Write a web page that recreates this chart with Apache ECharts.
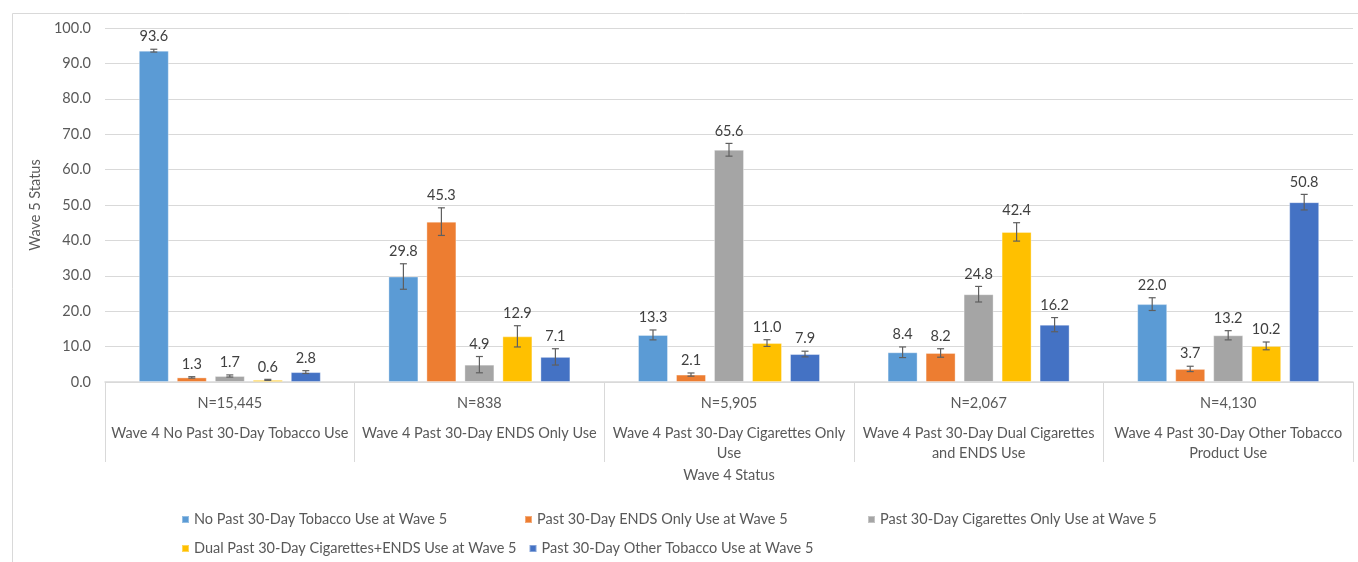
<!DOCTYPE html>
<html>
<head>
<meta charset="utf-8">
<title>Wave 5 Status by Wave 4 Status</title>
<script src="https://cdn.jsdelivr.net/npm/echarts@6/dist/echarts.min.js"></script>
<style>
  html, body { margin: 0; padding: 0; background: #ffffff; }
  #chart { width: 1358px; height: 562px; }
</style>
</head>
<body>
<div id="chart"></div>
<script>
// Wave 4 status groups and their sample sizes
const categories = [
  'Wave 4 No Past 30-Day Tobacco Use',
  'Wave 4 Past 30-Day ENDS Only Use',
  'Wave 4 Past 30-Day Cigarettes Only\nUse',
  'Wave 4 Past 30-Day Dual Cigarettes\nand ENDS Use',
  'Wave 4 Past 30-Day Other Tobacco\nProduct Use'
];
const sampleSizes = ['N=15,445', 'N=838', 'N=5,905', 'N=2,067', 'N=4,130'];

// Wave 5 outcome series (percent) and their error margins
const seriesNames = [
  'No Past 30-Day Tobacco Use at Wave 5',
  'Past 30-Day ENDS Only Use at Wave 5',
  'Past 30-Day Cigarettes Only Use at Wave 5',
  'Dual Past 30-Day Cigarettes+ENDS Use at Wave 5',
  'Past 30-Day Other Tobacco Use at Wave 5'
];
const noUseW5    = [93.6, 29.8, 13.3, 8.4, 22.0];
const endsOnlyW5 = [1.3, 45.3, 2.1, 8.2, 3.7];
const cigOnlyW5  = [1.7, 4.9, 65.6, 24.8, 13.2];
const dualW5     = [0.6, 12.9, 11.0, 42.4, 10.2];
const otherW5    = [2.8, 7.1, 7.9, 16.2, 50.8];

const noUseErr    = [0.4, 3.6, 1.4, 1.5, 1.8];
const endsOnlyErr = [0.2, 3.9, 0.45, 1.2, 0.75];
const cigOnlyErr  = [0.3, 2.3, 1.8, 2.2, 1.3];
const dualErr     = [0.15, 3.0, 0.95, 2.6, 1.1];
const otherErr    = [0.4, 2.3, 0.8, 2.0, 2.2];

const yTicks = { min: 0, max: 100, interval: 10 };

const seriesValues = [noUseW5, endsOnlyW5, cigOnlyW5, dualW5, otherW5];
const seriesErrors = [noUseErr, endsOnlyErr, cigOnlyErr, dualErr, otherErr];
const colors = ['#5B9BD5', '#ED7D31', '#A5A5A5', '#FFC000', '#4472C4'];

const FONT = 'Lato, "Open Sans", "Noto Sans", sans-serif';
const FS = 14.5;
const BAR_W = 30;
const BAR_GAP = 8;

function errorBarRenderer(sIdx) {
  return function (params, api) {
    const cat = api.value(0);
    const lo = api.value(1);
    const hi = api.value(2);
    const val = api.value(3);
    const cx = api.coord([cat, 0])[0] + (sIdx - 2) * (BAR_W + BAR_GAP);
    const yLo = api.coord([cat, lo])[1];
    const yHi = api.coord([cat, hi])[1];
    const stroke = { stroke: '#5f5f5f', lineWidth: 1.2 };
    return {
      type: 'group',
      children: [
        { type: 'line', shape: { x1: cx, y1: yLo, x2: cx, y2: yHi }, style: stroke },
        { type: 'line', shape: { x1: cx - 3.5, y1: yLo, x2: cx + 3.5, y2: yLo }, style: stroke },
        { type: 'line', shape: { x1: cx - 3.5, y1: yHi, x2: cx + 3.5, y2: yHi }, style: stroke },
        {
          type: 'text',
          style: {
            text: val.toFixed(1), x: cx, y: yHi - 12.5,
            align: 'center', verticalAlign: 'middle',
            fill: '#404040', font: FS + 'px ' + FONT
          }
        }
      ]
    };
  };
}

const series = [];
seriesNames.forEach(function (name, i) {
  series.push({
    name: name,
    type: 'bar',
    barWidth: BAR_W,
    barGap: (BAR_GAP / BAR_W * 100) + '%',
    itemStyle: { color: colors[i], borderColor: 'rgba(255,255,255,0.35)', borderWidth: 1 },
    data: seriesValues[i]
  });
});
seriesNames.forEach(function (name, i) {
  series.push({
    type: 'custom',
    silent: true,
    z: 5,
    renderItem: errorBarRenderer(i),
    encode: { x: 0, y: [1, 2] },
    data: seriesValues[i].map(function (v, j) {
      return [j, v - seriesErrors[i][j], v + seriesErrors[i][j], v];
    })
  });
});

const chart = echarts.init(document.getElementById('chart'), null, { renderer: 'canvas' });
chart.setOption({
  animation: false,
  backgroundColor: '#ffffff',
  textStyle: { fontFamily: FONT },
  graphic: [{
    type: 'rect',
    left: 10, top: 11,
    shape: { width: 1400, height: 600 },
    style: { fill: 'none', stroke: '#d9d9d9', lineWidth: 1 },
    silent: true
  }],
  grid: { left: 105, right: 5, top: 28, bottom: 180, containLabel: false },
  xAxis: {
    type: 'category',
    data: categories,
    name: 'Wave 4 Status',
    nameLocation: 'middle',
    nameGap: 86,
    nameTextStyle: { color: '#595959', fontSize: FS, fontFamily: FONT },
    axisLine: { lineStyle: { color: '#d9d9d9', width: 1.5 } },
    axisTick: { show: true, length: 80, interval: 0, alignWithLabel: false, lineStyle: { color: '#d9d9d9' } },
    axisLabel: {
      interval: 0,
      margin: 0,
      color: '#595959',
      formatter: function (value, idx) {
        const lines = value.split('\n').map(function (s) { return '{t|' + s + '}'; });
        return '{n|' + sampleSizes[idx] + '}\n' + lines.join('\n');
      },
      rich: {
        n: { fontSize: FS, lineHeight: 42, color: '#595959', fontFamily: FONT },
        t: { fontSize: FS, lineHeight: 19.5, color: '#595959', fontFamily: FONT }
      }
    }
  },
  yAxis: {
    type: 'value',
    min: yTicks.min, max: yTicks.max, interval: yTicks.interval,
    name: 'Wave 5 Status',
    nameLocation: 'middle',
    nameGap: 58,
    nameTextStyle: { color: '#595959', fontSize: FS, fontFamily: FONT },
    axisLine: { show: false },
    axisTick: { show: false },
    axisLabel: {
      margin: 14,
      color: '#595959', fontSize: FS, fontFamily: FONT,
      formatter: function (v) { return v.toFixed(1); }
    },
    splitLine: { lineStyle: { color: '#d9d9d9', width: 1 } }
  },
  legend: {
    data: seriesNames,
    left: 176,
    top: 506,
    width: 1040,
    orient: 'horizontal',
    icon: 'rect',
    itemWidth: 7,
    itemHeight: 7,
    itemGap: 12,
    textStyle: { color: '#595959', fontSize: 14.5, fontFamily: FONT, width: 318, lineHeight: 17 }
  },
  series: series
});
</script>
</body>
</html>
